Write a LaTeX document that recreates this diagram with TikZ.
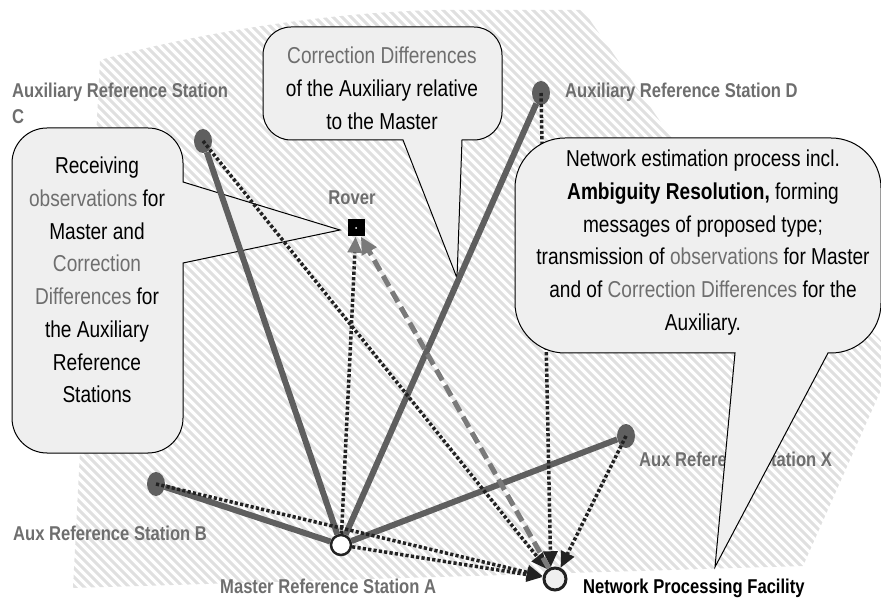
\documentclass[tikz,border=0pt]{standalone}
\usepackage{fontspec}
\setmainfont{Liberation Sans}[FakeStretch=0.83]
\usepackage{tikz}
\usetikzlibrary{calc}
\usetikzlibrary{positioning}
\usetikzlibrary{shapes.geometric}
\usetikzlibrary{arrows.meta}

\definecolor{hatchgray}{HTML}{E0E0E0}
\definecolor{linegray}{HTML}{5F5F5F}
\definecolor{labelgray}{HTML}{6E6E6E}
\definecolor{calloutfill}{HTML}{EFEFEF}
\definecolor{arrowdark}{HTML}{222222}
\definecolor{dashgray}{HTML}{7A7A7A}

\newcommand{\grayword}[1]{\textcolor{labelgray}{#1}}

\tikzset{
  station/.style={ellipse,fill=linegray,minimum width=18pt,minimum height=24pt,inner sep=0pt},
  hub/.style={circle,draw=arrowdark,line width=2.5pt,fill=white,minimum size=20pt,inner sep=0pt},
  stationlabel/.style={font=\fontsize{20}{26}\selectfont\bfseries,text=labelgray,inner sep=0pt},
  link/.style={line width=6pt,draw=linegray},
  msg/.style={line width=3.5pt,draw=arrowdark,dash pattern=on 3.2pt off 2.2pt,-{Triangle[length=16pt,width=14pt]}},
  relay/.style={line width=5pt,draw=dashgray,dash pattern=on 12pt off 6pt,-{Triangle[length=17pt,width=16pt]}},
  callout/.style={draw=black,line width=1pt,fill=calloutfill},
  callouttext/.style={font=\fontsize{23}{32.7}\selectfont,align=center,inner sep=0pt}
}

\begin{document}
\begin{tikzpicture}[x=1pt,y=-1pt]
\useasboundingbox (0,0) rectangle (881,601);

\begin{scope}
\clip (73,588) -- (100,60) .. controls (200,32) and (330,12) .. (440,10) -- (583,10) -- (680,150) -- (881,340) -- (881,390) -- (803,566) -- cycle;
\foreach \t in {-620,-611,...,890}
  \draw[hatchgray,line width=3pt] (\t,0) -- (\t+620,620);
\end{scope}

\node[station] (auxC) at (203,141) {};
\node[station] (auxD) at (541,93) {};
\node[station] (auxB) at (156,484) {};
\node[station] (auxX) at (626,436) {};
\node[hub] (master) at (341,545) {};
\node[hub,line width=3pt,minimum size=22pt,fill=calloutfill] (npf) at (555,579) {};
\node[fill=black,minimum size=17pt,inner sep=0pt] (rover) at (356,228) {};
\fill[white] (rover.center) circle (1pt);

\node[stationlabel,anchor=north west,align=left] (labC) at (12,83) {Auxiliary Reference Station\\C};
\node[stationlabel,anchor=base west] (labD) at (565,98) {Auxiliary Reference Station D};
\node[stationlabel,anchor=base] (labRover) at (352,205) {Rover};
\node[stationlabel,anchor=base west] (labB) at (13,540) {Aux Reference Station B};
\node[stationlabel,anchor=base west] (labA) at (220,593) {Master Reference Station A};
\node[stationlabel,anchor=base west] (labNPF) at (583,593) {\color{black}Network Processing Facility};
\node[stationlabel,anchor=base west] (labX) at (639,467) {Aux Reference Station X};

\coordinate (recvTip) at (340,230);
\coordinate (corrTip) at (457,278);
\coordinate (netTip) at (715,567);

\draw[callout] (12,300) [rounded corners=35pt] -- (12,128) -- (183,128) [sharp corners] -- (183,182) -- (recvTip) -- (183,263) [rounded corners=35pt] -- (183,453) -- (12,453) -- cycle;
\node[callouttext,anchor=north] (recvText) at (97,157) {Receiving\\\grayword{observations} for\\Master and\\\grayword{Correction}\\\grayword{Differences} for\\the Auxiliary\\Reference\\Stations};

\draw[callout] (263,80) [rounded corners=28pt] -- (263,27) -- (502,27) -- (502,140) [sharp corners] -- (462,140) -- (corrTip) -- (403,140) [rounded corners=28pt] -- (263,140) -- cycle;
\node[callouttext,anchor=north] (corrText) at (382,47) {\grayword{Correction Differences}\\of the Auxiliary relative\\to the Master};

\draw[link] (master) -- (auxC);
\draw[link] (master) -- (auxD);
\draw[link] (master) -- (auxB);
\draw[link] (master) -- (auxX);
\draw[msg] (auxC.center) -- (npf);
\draw[msg] (auxB.center) -- (npf);
\draw[msg] (master) -- (npf);
\draw[msg] (auxD.center) -- (npf.110);
\draw[msg] (auxX.center) -- (npf);
\draw[msg,-{Triangle[length=16pt,width=14pt,color=dashgray]}] (master) -- (rover);
\draw[relay] (npf) -- (rover);

\draw[callout] (515,250) [rounded corners=50pt] -- (515,138) -- (881,138) -- (881,353) [sharp corners] -- (828,353) -- (netTip) -- (735,353) [rounded corners=50pt] -- (515,353) -- cycle;
\node[callouttext,anchor=north] (netText) at (703,150) {Network estimation process incl.\\\textbf{Ambiguity Resolution,} forming\\messages of proposed type;\\transmission of \grayword{observations} for Master\\and of \grayword{Correction Differences} for the\\Auxiliary.};

\end{tikzpicture}
\end{document}
